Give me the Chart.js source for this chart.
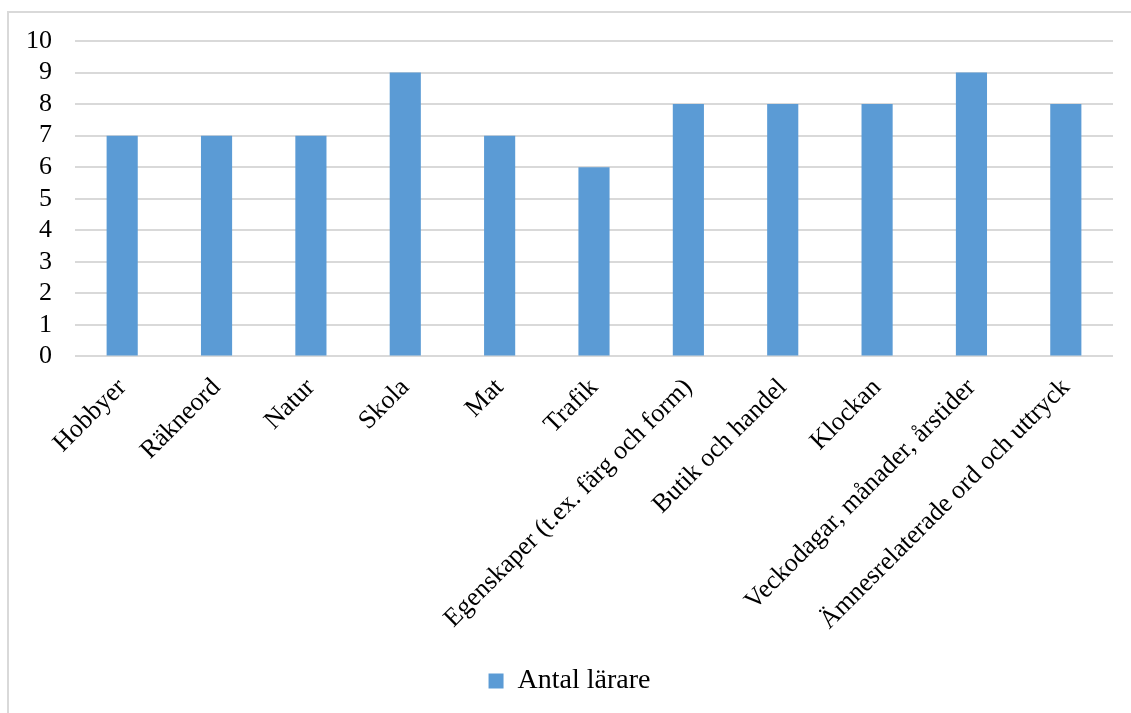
<!DOCTYPE html>
<html>
<head>
<meta charset="utf-8">
<script src="https://cdn.jsdelivr.net/npm/chart.js@4"></script>
<style>
  html, body { margin: 0; padding: 0; background: #fff; overflow: hidden; }
  #frame {
    position: absolute; left: 7px; top: 11px; width: 1200px; height: 800px;
    border-top: 2px solid #d9d9d9; border-left: 2px solid #d9d9d9;
  }
  #wrap { position: absolute; left: 0; top: 0; width: 1131px; height: 713px; }
</style>
</head>
<body>
<div id="frame"></div>
<div id="wrap"><canvas id="barChart"></canvas></div>
<script>
// ================== DATA ==================
const categories = [
  "Hobbyer",
  "Räkneord",
  "Natur",
  "Skola",
  "Mat",
  "Trafik",
  "Egenskaper (t.ex. färg och form)",
  "Butik och handel",
  "Klockan",
  "Veckodagar, månader, årstider",
  "Ämnesrelaterade ord och uttryck",
];
const antalLarare = [7, 7, 7, 9, 7, 6, 8, 8, 8, 9, 8];
const seriesName = "Antal lärare";

// ================== CHART ==================
const ctx = document.getElementById("barChart").getContext("2d");
const serif = "'Liberation Serif', 'Times New Roman', serif";
Chart.defaults.font.family = serif;
Chart.defaults.color = "#000";

new Chart(ctx, {
  type: "bar",
  data: {
    labels: categories,
    datasets: [
      {
        label: seriesName,
        data: antalLarare,
        backgroundColor: "#5b9bd5",
        categoryPercentage: 1,
        barPercentage: 0.33,
      },
    ],
  },
  options: {
    responsive: true,
    maintainAspectRatio: false,
    animation: false,
    layout: { padding: { top: 41, right: 18, left: 26, bottom: 8 } },
    scales: {
      x: {
        grid: { display: false, drawTicks: false },
        border: { display: false },
        ticks: {
          autoSkip: false,
          minRotation: 45,
          maxRotation: 45,
          padding: 16,
          font: { family: serif, size: 26 },
        },
      },
      y: {
        min: 0,
        max: 10,
        grid: { color: "#d9d9d9", lineWidth: 2, drawTicks: false },
        border: { display: false },
        ticks: {
          stepSize: 1,
          autoSkip: false,
          padding: 23,
          font: { family: serif, size: 26 },
        },
        // label width + padding only, so the plot starts at x=75
        afterFit: (scale) => { scale.width = 49; },
      },
    },
    plugins: {
      legend: {
        position: "bottom",
        labels: {
          boxWidth: 15,
          boxHeight: 15,
          padding: 15,
          color: "#000",
          font: { family: serif, size: 28 },
        },
      },
      tooltip: { enabled: false },
    },
  },
});
</script>
</body>
</html>
